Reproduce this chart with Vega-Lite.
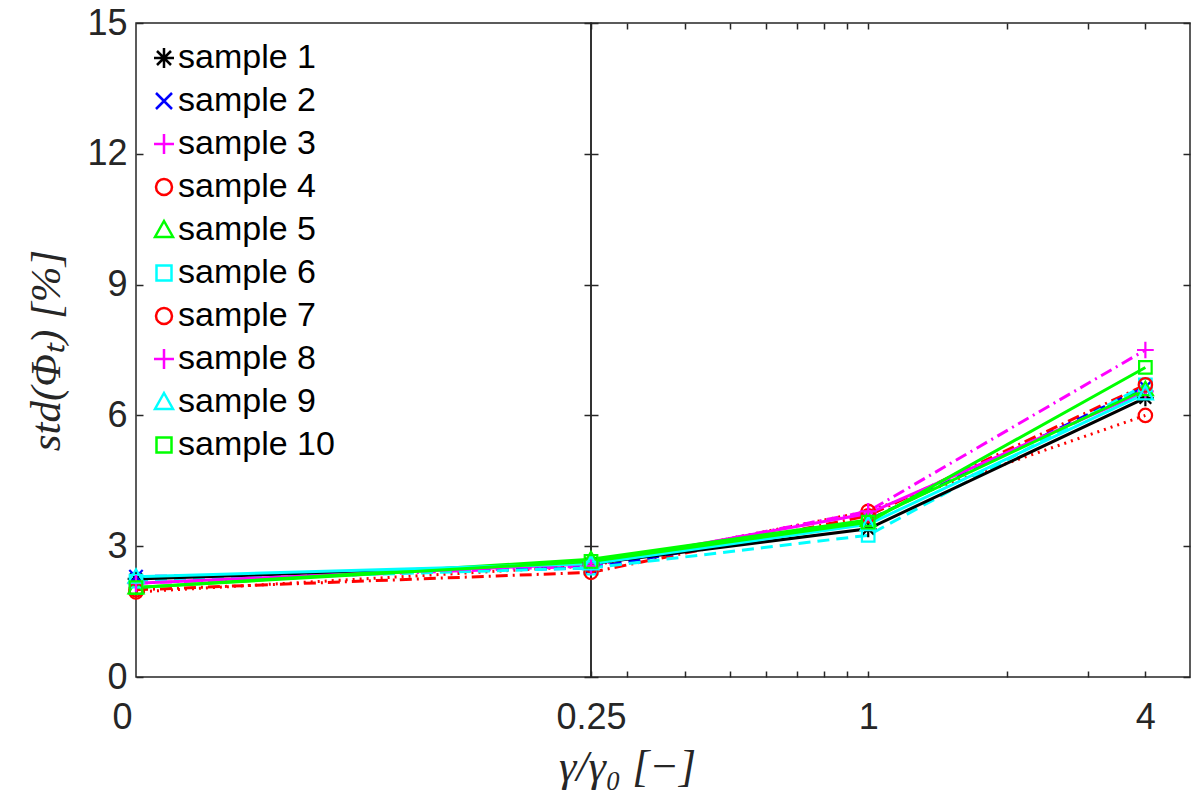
{
  "$schema": "https://vega.github.io/schema/vega-lite/v6.json",
  "background": "white",
  "padding": {"left": 25, "top": 4, "right": 12, "bottom": 0},
  "bounds": "flush",
  "spacing": 0,
  "data": {
    "values": [
      {"sample": "sample 1", "x": 0, "y": 2.25},
      {"sample": "sample 1", "x": 0.25, "y": 2.6},
      {"sample": "sample 1", "x": 1, "y": 3.4},
      {"sample": "sample 1", "x": 4, "y": 6.4},
      {"sample": "sample 2", "x": 0, "y": 2.3},
      {"sample": "sample 2", "x": 0.25, "y": 2.5},
      {"sample": "sample 2", "x": 1, "y": 3.6},
      {"sample": "sample 2", "x": 4, "y": 6.65},
      {"sample": "sample 3", "x": 0, "y": 2.15},
      {"sample": "sample 3", "x": 0.25, "y": 2.6},
      {"sample": "sample 3", "x": 1, "y": 3.75},
      {"sample": "sample 3", "x": 4, "y": 6.55},
      {"sample": "sample 4", "x": 0, "y": 1.95},
      {"sample": "sample 4", "x": 0.25, "y": 2.55},
      {"sample": "sample 4", "x": 1, "y": 3.8},
      {"sample": "sample 4", "x": 4, "y": 6.0},
      {"sample": "sample 5", "x": 0, "y": 2.05},
      {"sample": "sample 5", "x": 0.25, "y": 2.7},
      {"sample": "sample 5", "x": 1, "y": 3.6},
      {"sample": "sample 5", "x": 4, "y": 6.6},
      {"sample": "sample 6", "x": 0, "y": 2.2},
      {"sample": "sample 6", "x": 0.25, "y": 2.5},
      {"sample": "sample 6", "x": 1, "y": 3.25},
      {"sample": "sample 6", "x": 4, "y": 6.7},
      {"sample": "sample 7", "x": 0, "y": 2.0},
      {"sample": "sample 7", "x": 0.25, "y": 2.4},
      {"sample": "sample 7", "x": 1, "y": 3.7},
      {"sample": "sample 7", "x": 4, "y": 6.7},
      {"sample": "sample 8", "x": 0, "y": 2.15},
      {"sample": "sample 8", "x": 0.25, "y": 2.55},
      {"sample": "sample 8", "x": 1, "y": 3.8},
      {"sample": "sample 8", "x": 4, "y": 7.5},
      {"sample": "sample 9", "x": 0, "y": 2.3},
      {"sample": "sample 9", "x": 0.25, "y": 2.6},
      {"sample": "sample 9", "x": 1, "y": 3.5},
      {"sample": "sample 9", "x": 4, "y": 6.5},
      {"sample": "sample 10", "x": 0, "y": 2.05},
      {"sample": "sample 10", "x": 0.25, "y": 2.65},
      {"sample": "sample 10", "x": 1, "y": 3.55},
      {"sample": "sample 10", "x": 4, "y": 7.1}
    ]
  },
  "hconcat": [
    {
      "width": 455,
      "height": 654,
      "layer": [
        {
          "mark": {"type": "line", "strokeWidth": 3, "strokeDash": [2, 5]},
          "transform": [{"filter": "datum.x <= 0.25 && datum.sample == 'sample 4'"}],
          "encoding": {
            "x": {
              "field": "x", "type": "quantitative",
              "scale": {"domain": [0, 0.25]},
              "axis": {"values": [0], "title": null, "labelExpr": "'0'", "ticks": false, "labelFlush": false, "labelPadding": 23, "labelOffset": -14}
            },
            "y": {
              "field": "y", "type": "quantitative",
              "scale": {"domain": [0, 15]},
              "axis": {"values": [0, 3, 6, 9, 12, 15], "title": "std(Φₜ) [%]", "titleFontSize": 43, "tickSize": -7, "labelPadding": 16, "labelFlush": false, "titlePadding": 18}
            },
            "color": {
              "field": "sample", "type": "nominal",
              "scale": {
                "domain": ["sample 1", "sample 2", "sample 3", "sample 4", "sample 5", "sample 6", "sample 7", "sample 8", "sample 9", "sample 10"],
                "range": ["#000000", "#0000ff", "#ff00ff", "#ff0000", "#00ff00", "#00ffff", "#ff0000", "#ff00ff", "#00ffff", "#00ff00"]
              },
              "legend": {
                "title": null, "orient": "none", "legendX": 11, "legendY": 18, "padding": 0,
                "symbolSize": 400, "symbolStrokeWidth": 2.5,
                "labelFont": "Liberation Sans", "labelFontSize": 34, "labelColor": "black",
                "labelOffset": -3, "rowPadding": 9, "labelLimit": 400
              }
            }
          }
        },
        {
          "mark": {"type": "line", "strokeWidth": 3, "strokeDash": [12, 5, 2, 5]},
          "transform": [{"filter": "datum.x <= 0.25 && (datum.sample == 'sample 7' || datum.sample == 'sample 8')"}],
          "encoding": {
            "x": {"field": "x", "type": "quantitative", "scale": {"domain": [0, 0.25]}},
            "y": {"field": "y", "type": "quantitative", "scale": {"domain": [0, 15]}, "axis": null},
            "color": {"field": "sample", "type": "nominal"}
          }
        },
        {
          "mark": {"type": "line", "strokeWidth": 3, "strokeDash": [12, 7]},
          "transform": [{"filter": "datum.x <= 0.25 && (datum.sample == 'sample 2' || datum.sample == 'sample 6')"}],
          "encoding": {
            "x": {"field": "x", "type": "quantitative", "scale": {"domain": [0, 0.25]}},
            "y": {"field": "y", "type": "quantitative", "scale": {"domain": [0, 15]}, "axis": null},
            "color": {"field": "sample", "type": "nominal"}
          }
        },
        {
          "mark": {"type": "line", "strokeWidth": 3},
          "transform": [{"filter": "datum.x <= 0.25 && indexof(['sample 1', 'sample 3', 'sample 5', 'sample 9', 'sample 10'], datum.sample) >= 0"}],
          "encoding": {
            "x": {"field": "x", "type": "quantitative", "scale": {"domain": [0, 0.25]}},
            "y": {"field": "y", "type": "quantitative", "scale": {"domain": [0, 15]}, "axis": null},
            "color": {"field": "sample", "type": "nominal"}
          }
        },
        {
          "mark": {"type": "point", "filled": false, "strokeWidth": 2.2, "size": 280, "opacity": 1},
          "transform": [{"filter": "datum.x == 0"}],
          "encoding": {
            "x": {"field": "x", "type": "quantitative", "scale": {"domain": [0, 0.25]}},
            "y": {"field": "y", "type": "quantitative", "scale": {"domain": [0, 15]}, "axis": null},
            "color": {"field": "sample", "type": "nominal"},
            "shape": {
              "field": "sample", "type": "nominal",
              "scale": {
                "domain": ["sample 1", "sample 2", "sample 3", "sample 4", "sample 5", "sample 6", "sample 7", "sample 8", "sample 9", "sample 10"],
                "range": [
                  "M-1,0L1,0M0,-1L0,1M-0.7,-0.7L0.7,0.7M-0.7,0.7L0.7,-0.7",
                  "M-0.8,-0.8L0.8,0.8M-0.8,0.8L0.8,-0.8",
                  "M-1,0L1,0M0,-1L0,1",
                  "M-0.8,0A0.8,0.8 0 1,0 0.8,0A0.8,0.8 0 1,0 -0.8,0Z",
                  "M0,-0.9L0.9,0.7L-0.9,0.7Z",
                  "M-0.75,-0.75L0.75,-0.75L0.75,0.75L-0.75,0.75Z",
                  "M-0.8,0A0.8,0.8 0 1,0 0.8,0A0.8,0.8 0 1,0 -0.8,0Z",
                  "M-1,0L1,0M0,-1L0,1",
                  "M0,-0.9L0.9,0.7L-0.9,0.7Z",
                  "M-0.75,-0.75L0.75,-0.75L0.75,0.75L-0.75,0.75Z"
                ]
              }
            }
          }
        },
        {
          "mark": {"type": "point", "opacity": 0},
          "transform": [{"filter": "datum.x <= 0.25"}],
          "encoding": {
            "x": {"field": "x", "type": "quantitative", "scale": {"domain": [0, 0.25]}},
            "y": {
              "field": "y", "type": "quantitative",
              "scale": {"domain": [0, 15]},
              "axis": {"orient": "right", "values": [0, 3, 6, 9, 12, 15], "labels": false, "title": null, "tickSize": -7}
            }
          }
        }
      ],
      "resolve": {"scale": {"y": "independent"}}
    },
    {
      "width": 599,
      "height": 654,
      "layer": [
        {
          "mark": {"type": "line", "strokeWidth": 3, "strokeDash": [2, 5]},
          "transform": [{"filter": "datum.x >= 0.25 && datum.sample == 'sample 4'"}],
          "encoding": {
            "x": {
              "field": "x", "type": "quantitative",
              "scale": {"type": "log", "domain": [0.25, 5]},
              "axis": {
                "values": [0.25, 0.3, 0.4, 0.5, 0.6, 0.7, 0.8, 0.9, 1, 2, 3, 4],
                "labelExpr": "datum.value == 0.25 ? '0.25' : datum.value == 1 ? '1' : datum.value == 4 ? '4' : ''",
                "tickSize": -6,
                "labelFlush": false, "labelOverlap": false, "labelPadding": 29,
                "title": "γ/γ₀ [−]", "titleFontSize": 44, "titleX": 36, "titleY": 68, "titleAlign": "center", "titleBaseline": "top"
              }
            },
            "y": {
              "field": "y", "type": "quantitative",
              "scale": {"domain": [0, 15]},
              "axis": {"values": [0, 3, 6, 9, 12, 15], "labels": false, "title": null, "tickSize": -7}
            },
            "color": {"field": "sample", "type": "nominal", "legend": null}
          }
        },
        {
          "mark": {"type": "line", "strokeWidth": 3, "strokeDash": [12, 5, 2, 5]},
          "transform": [{"filter": "datum.x >= 0.25 && (datum.sample == 'sample 7' || datum.sample == 'sample 8')"}],
          "encoding": {
            "x": {"field": "x", "type": "quantitative", "scale": {"type": "log", "domain": [0.25, 5]}, "axis": null},
            "y": {"field": "y", "type": "quantitative", "scale": {"domain": [0, 15]}, "axis": null},
            "color": {"field": "sample", "type": "nominal", "legend": null}
          }
        },
        {
          "mark": {"type": "line", "strokeWidth": 3, "strokeDash": [12, 7]},
          "transform": [{"filter": "datum.x >= 0.25 && (datum.sample == 'sample 2' || datum.sample == 'sample 6')"}],
          "encoding": {
            "x": {"field": "x", "type": "quantitative", "scale": {"type": "log", "domain": [0.25, 5]}, "axis": null},
            "y": {"field": "y", "type": "quantitative", "scale": {"domain": [0, 15]}, "axis": null},
            "color": {"field": "sample", "type": "nominal", "legend": null}
          }
        },
        {
          "mark": {"type": "line", "strokeWidth": 3},
          "transform": [{"filter": "datum.x >= 0.25 && indexof(['sample 1', 'sample 3', 'sample 5', 'sample 9', 'sample 10'], datum.sample) >= 0"}],
          "encoding": {
            "x": {"field": "x", "type": "quantitative", "scale": {"type": "log", "domain": [0.25, 5]}, "axis": null},
            "y": {"field": "y", "type": "quantitative", "scale": {"domain": [0, 15]}, "axis": null},
            "color": {"field": "sample", "type": "nominal", "legend": null}
          }
        },
        {
          "mark": {"type": "point", "filled": false, "strokeWidth": 2.2, "size": 280, "opacity": 1},
          "transform": [{"filter": "datum.x >= 0.25"}],
          "encoding": {
            "x": {"field": "x", "type": "quantitative", "scale": {"type": "log", "domain": [0.25, 5]}, "axis": null},
            "y": {"field": "y", "type": "quantitative", "scale": {"domain": [0, 15]}, "axis": null},
            "color": {"field": "sample", "type": "nominal", "legend": null},
            "shape": {"field": "sample", "type": "nominal", "legend": null}
          }
        },
        {
          "mark": {"type": "point", "opacity": 0},
          "transform": [{"filter": "datum.x >= 0.25"}],
          "encoding": {
            "x": {
              "field": "x", "type": "quantitative",
              "scale": {"type": "log", "domain": [0.25, 5]},
              "axis": {
                "orient": "top", "labels": false, "title": null,
                "values": [0.25, 0.3, 0.4, 0.5, 0.6, 0.7, 0.8, 0.9, 1, 2, 3, 4],
                "tickSize": -6
              }
            },
            "y": {
              "field": "y", "type": "quantitative",
              "scale": {"domain": [0, 15]},
              "axis": {"orient": "right", "values": [0, 3, 6, 9, 12, 15], "labels": false, "title": null, "tickSize": -7}
            }
          }
        }
      ],
      "resolve": {"scale": {"x": "independent", "y": "independent"}}
    }
  ],
  "resolve": {"legend": {"color": "independent", "shape": "independent"}},
  "config": {
    "view": {"stroke": "#262626", "strokeWidth": 1.5},
    "concat": {"spacing": 0},
    "axis": {
      "domain": false, "grid": false,
      "labelFont": "Liberation Sans", "labelFontSize": 36, "labelColor": "#262626",
      "tickColor": "#262626", "tickWidth": 1.5,
      "titleFont": "Liberation Serif", "titleFontStyle": "italic", "titleFontWeight": "normal",
      "titleFontSize": 36, "titleColor": "#262626"
    }
  }
}
